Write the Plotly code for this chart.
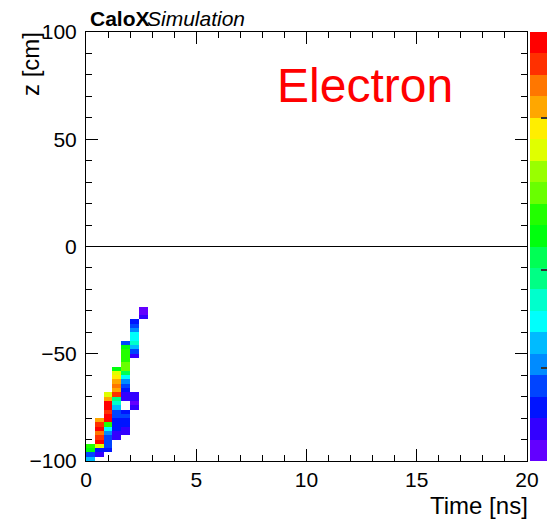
import colorsys
import plotly.graph_objects as go

# ---- data ----
# histogram binning: 50 bins in time (0-20 ns), 100 bins in z (-100..100 cm)
time_edges_n = 50
time_range = [0, 20]
z_edges_n = 100
z_range = [-100, 100]

# filled cells: time bin centre [ns], z bin centre [cm], colour level (0 = lowest .. 19 = highest)
cell_time = [
    2.6, 2.6, 2.6,
    2.2, 2.2, 2.2, 2.2, 2.2, 2.2, 2.2, 2.2, 2.2, 2.2, 2.2, 2.2, 2.2,
    1.8, 1.8, 1.8, 1.8, 1.8, 1.8, 1.8, 1.8, 1.8, 1.8, 1.8, 1.8, 1.8, 1.8, 1.8, 1.8, 1.8, 1.8, 1.8, 1.8,
    1.4, 1.4, 1.4, 1.4, 1.4, 1.4, 1.4, 1.4, 1.4, 1.4, 1.4, 1.4, 1.4, 1.4, 1.4, 1.4, 1.4,
    1.0, 1.0, 1.0, 1.0, 1.0, 1.0, 1.0, 1.0, 1.0, 1.0, 1.0, 1.0, 1.0, 1.0,
    0.6, 0.6, 0.6, 0.6, 0.6, 0.6, 0.6, 0.6, 0.6,
    0.2, 0.2, 0.2, 0.2,
]
cell_z = [
    -29, -31, -33,
    -35, -37, -39, -41, -43, -45, -47, -49, -51, -69, -71, -73, -75,
    -45, -47, -49, -51, -53, -55, -57, -59, -61, -63, -65, -67, -69, -71, -77, -79, -81, -83, -85, -87,
    -57, -59, -61, -63, -65, -67, -69, -71, -73, -75, -77, -79, -81, -83, -85, -87, -89,
    -69, -71, -73, -75, -77, -79, -81, -83, -85, -87, -89, -91, -93, -95,
    -81, -83, -85, -87, -89, -91, -93, -95, -97,
    -93, -95, -97, -99,
]
cell_level = [
    0, 0, 1,
    2, 3, 4, 6, 6, 7, 5, 3, 1, 1, 1, 0, 1,
    3, 10, 11, 11, 11, 12, 12, 9, 6, 4, 3, 2, 1, 1, 2, 3, 2, 2, 1, 1,
    10, 14, 15, 16, 17, 16, 18, 8, 7, 5, 3, 3, 2, 2, 2, 1, 1,
    14, 16, 19, 19, 18, 19, 19, 11, 6, 4, 3, 3, 3, 2,
    16, 18, 19, 17, 18, 19, 14, 2, 1,
    11, 10, 3, 5,
]

x_ticks = [0, 5, 10, 15, 20]
y_ticks = [-100, -50, 0, 50, 100]
# positions (in colour-level units) of the palette-axis tick marks
palette_ticks = [4.35, 8.9, 15.97]

# ---- build histogram grid ----
dx = (time_range[1] - time_range[0]) / time_edges_n
dz = (z_range[1] - z_range[0]) / z_edges_n
x_centers = [time_range[0] + dx * (i + 0.5) for i in range(time_edges_n)]
y_centers = [z_range[0] + dz * (j + 0.5) for j in range(z_edges_n)]
grid = [[None] * time_edges_n for _ in range(z_edges_n)]
for t, zc, lv in zip(cell_time, cell_z, cell_level):
    i = int((t - time_range[0]) / dx)
    j = int((zc - z_range[0]) / dz)
    grid[j][i] = lv + 0.5

# ROOT "pretty" palette, 20 contour levels
n_levels = 20
colors = []
for k in range(n_levels):
    idx = int((k + 0.99) * 50 / n_levels)
    hue = 280 - (idx + 1) * (280 / 50)
    r, g, b = colorsys.hls_to_rgb(hue / 360.0, 0.5, 1.0)
    colors.append("rgb(%d,%d,%d)" % (round(r * 255), round(g * 255), round(b * 255)))
colorscale = []
for k, c in enumerate(colors):
    colorscale.append([k / n_levels, c])
    colorscale.append([(k + 1) / n_levels, c])

FONT = "Liberation Sans, Arial, Helvetica, sans-serif"

fig = go.Figure()
fig.add_trace(go.Heatmap(
    x=x_centers, y=y_centers, z=grid,
    zmin=0, zmax=n_levels,
    colorscale=colorscale,
    hoverongaps=False,
    colorbar=dict(
        x=1.0068, xanchor="left", xref="paper", xpad=0,
        y=0.5, yanchor="middle", yref="paper", ypad=0,
        len=1, lenmode="fraction",
        thickness=18, thicknessmode="pixels",
        outlinewidth=0, showticklabels=False,
        ticks="inside", ticklen=7, tickwidth=1.5, tickcolor="#333333",
        tickmode="array", tickvals=palette_ticks,
    ),
))

axis_common = dict(
    showgrid=False,
    showline=True, linecolor="black", linewidth=1,
    mirror="ticks",
    ticks="inside", ticklen=12, tickwidth=1, tickcolor="black",
    tickfont=dict(family=FONT, size=21, color="black"),
)

fig.update_xaxes(
    range=time_range, tickvals=x_ticks, ticktext=[str(v) for v in x_ticks],
    minor=dict(dtick=1, ticks="inside", ticklen=6, tickcolor="black", tickwidth=1),
    zeroline=False, **axis_common,
)
fig.update_yaxes(
    range=z_range, tickvals=y_ticks,
    ticktext=[("\u2212" + str(-v)) if v < 0 else str(v) for v in y_ticks],
    minor=dict(dtick=10, ticks="inside", ticklen=6, tickcolor="black", tickwidth=1),
    zeroline=True, zerolinecolor="black", zerolinewidth=1,
    ticklabelstandoff=4,
    **axis_common,
)

W, H = 547, 519
L, R, T, B = 86, 20, 32, 58
pw, ph = W - L - R, H - T - B


def px(x):
    return (x - L) / pw


def py(y):
    return (H - B - y) / ph


annotations = [
    dict(text="<b>CaloX</b>", x=px(89), y=py(18.5), xanchor="left", yanchor="middle",
         font=dict(family=FONT, size=21, color="black")),
    dict(text="<i>Simulation</i>", x=px(146), y=py(18.5), xanchor="left", yanchor="middle",
         font=dict(family=FONT, size=21, color="black")),
    dict(text="Electron", x=px(276), y=py(85.5), xanchor="left", yanchor="middle",
         font=dict(family=FONT, size=48, color="#ff0000")),
    dict(text="Time [ns]", x=px(529), y=py(505), xanchor="right", yanchor="middle",
         font=dict(family=FONT, size=24, color="black")),
    dict(text="z [cm]", x=px(31), y=py(31), xanchor="center", yanchor="top", textangle=-90,
         font=dict(family=FONT, size=24, color="black")),
]
for a in annotations:
    a.update(xref="paper", yref="paper", showarrow=False, borderpad=0)

fig.update_layout(
    width=W, height=H,
    margin=dict(l=L, r=R, t=T, b=B, autoexpand=False),
    paper_bgcolor="white", plot_bgcolor="white",
    annotations=annotations,
    showlegend=False,
)

fig.write_html(
    "out.html",
    config={"displayModeBar": False},
    post_script="document.body.style.margin='0';document.body.style.overflow='hidden';",
)
